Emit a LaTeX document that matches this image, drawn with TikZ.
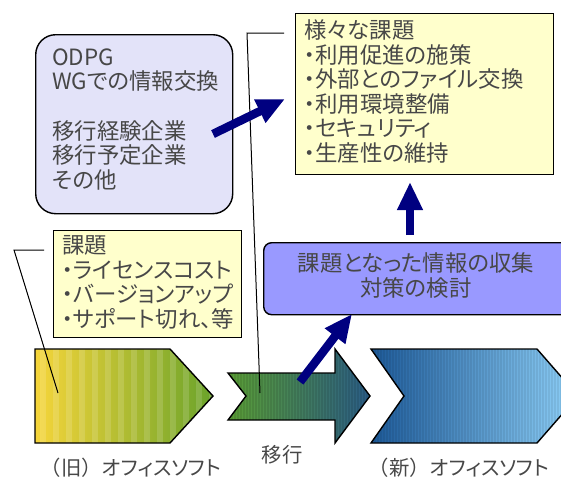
\documentclass[tikz,border=0pt]{standalone}
\usepackage{fontspec}
\setmainfont{Noto Sans CJK JP}[RawFeature={+palt}]
\newfontfamily\cjkfw{Noto Sans CJK JP}
\usetikzlibrary{arrows.meta}
\definecolor{navyA}{HTML}{000080}
\definecolor{lavA}{HTML}{E3E3F9}
\definecolor{ylwA}{HTML}{FFFFCC}
\definecolor{purpA}{HTML}{9999FF}
\definecolor{txtA}{HTML}{474747}
\definecolor{oldL}{HTML}{F6D53A}
\definecolor{oldM}{HTML}{D2CB55}
\definecolor{oldR}{HTML}{6AA32A}
\definecolor{midL}{HTML}{5A9E35}
\definecolor{midM}{HTML}{3E7C55}
\definecolor{midR}{HTML}{2A5C86}
\definecolor{newL}{HTML}{1D5A99}
\definecolor{newM}{HTML}{4A8DC8}
\definecolor{newR}{HTML}{90D2FA}
\tikzset{
  boxline/.style={draw=black, line width=1.4pt},
  bodytext/.style={font=\fontsize{22.4}{24}\selectfont, text=txtA, inner sep=0pt},
  labeltext/.style={font=\fontsize{20.4}{24}\selectfont, text=txtA, inner sep=0pt},
  callout/.style={draw=black, line width=1pt},
  bigarrow/.style={draw=navyA, line width=8.5pt, -{Triangle[width=24pt,length=28pt]}},
}
\begin{document}
\begin{tikzpicture}[x=1pt,y=-1pt]
\useasboundingbox (0,0) rectangle (561,479);
\clip (0,0) rectangle (561,479);

% ---------- old office chevron
\begin{scope}
  \clip (35,349) -- (170,349) -- (213,396) -- (170,443) -- (35,443) -- cycle;
  \shade[left color=oldL, middle color=oldM, right color=oldR] (35,349) rectangle (213,443);
  \foreach \sx in {40,53,...,210} \fill[white,opacity=0.14] (\sx,349) rectangle ++(6,94);
\end{scope}
\draw[boxline] (35,349) -- (170,349) -- (213,396) -- (170,443) -- (35,443) -- cycle;

% ---------- migration arrow
\begin{scope}
  \clip (228,373) -- (335,373) -- (335,349) -- (370,396) -- (335,443) -- (335,420) -- (228,420) -- (246,396) -- cycle;
  \shade[left color=midL, middle color=midM, right color=midR] (228,349) rectangle (370,443);
  \foreach \sx in {228,231,...,370} \fill[black,opacity=0.09] (\sx,349) rectangle ++(1.5,94);
\end{scope}
\draw[boxline] (228,373) -- (335,373) -- (335,349) -- (370,396) -- (335,443) -- (335,420) -- (228,420) -- (246,396) -- cycle;

% ---------- new office chevron
\begin{scope}
  \clip (371,349) -- (537,349) -- (578,396) -- (537,443) -- (371,443) -- (404,396) -- cycle;
  \shade[left color=newL, middle color=newM, right color=newR] (371,349) rectangle (578,443);
  \foreach \sx in {371,374,...,578} \fill[black,opacity=0.07] (\sx,349) rectangle ++(1.5,94);
\end{scope}
\draw[boxline] (371,349) -- (537,349) -- (578,396) -- (537,443) -- (371,443) -- (404,396) -- cycle;

% ---------- boxes
\node[boxline, fill=lavA, rounded corners=20pt, minimum width=197pt, minimum height=179pt, anchor=north west] (odpg) at (35,34) {};
\node[boxline, fill=ylwA, minimum width=258pt, minimum height=161pt, anchor=north west] (issues) at (295,13) {};
\node[boxline, fill=ylwA, minimum width=188pt, minimum height=107pt, anchor=north west] (oldissues) at (53,230) {};
\node[boxline, fill=purpA, rounded corners=8pt, minimum width=312pt, minimum height=72pt, anchor=north west] (collect) at (263,242) {};

% ---------- texts
\foreach \t [count=\i] in {ODPG,WGでの情報交換}
  \node[bodytext, anchor=base west] (od\i) at (52,{65+(\i-1)*24.6}) {\t};
\foreach \t [count=\i] in {移行経験企業,移行予定企業,その他}
  \node[bodytext, anchor=base west] (co\i) at (52,{139+(\i-1)*24.6}) {\t};
\foreach \t [count=\i] in {様々な課題,・利用促進の施策,・外部とのファイル交換,・利用環境整備,・セキュリティ,・生産性の維持}
  \node[bodytext, anchor=base west] (is\i) at (304,{38.5+(\i-1)*24.6}) {\t};
\foreach \t [count=\i] in {課題,・ライセンスコスト,・バージョンアップ,・サポート切れ、等}
  \node[bodytext, anchor=base west] (oi\i) at (62,{253.5+(\i-1)*24.6}) {\t};
\node[bodytext, anchor=base] (cl1) at (416,271.5) {課題となった情報の収集};
\node[bodytext, anchor=base] (cl2) at (416,296.5) {対策の検討};

\node[labeltext, anchor=base] (lblold) at (131,475) {{\cjkfw （}旧{\cjkfw ）}オフィスソフト};
\node[labeltext, anchor=base] (lblmid) at (282,462) {移行};
\node[labeltext, anchor=base] (lblnew) at (459,475) {{\cjkfw （}新{\cjkfw ）}オフィスソフト};

% ---------- callout lines
\coordinate (ca1) at (284,33);
\coordinate (ca2) at (247,33);
\coordinate (ca3) at (260,393);
\draw[callout] (ca1) -- (ca2) -- (ca3);
\coordinate (cb1) at (44,250);
\coordinate (cb2) at (14,250);
\coordinate (cb3) at (58,393);
\draw[callout] (cb1) -- (cb2) -- (cb3);

% ---------- navy arrows
\coordinate (a1s) at (213,134);
\coordinate (a1e) at (285,99);
\draw[bigarrow] (a1s) -- (a1e);
\coordinate (a2s) at (410,235);
\coordinate (a2e) at (410,182);
\draw[bigarrow] (a2s) -- (a2e);
\coordinate (a3s) at (300,382);
\coordinate (a3e) at (352,314);
\draw[bigarrow] (a3s) -- (a3e);
\end{tikzpicture}
\end{document}
